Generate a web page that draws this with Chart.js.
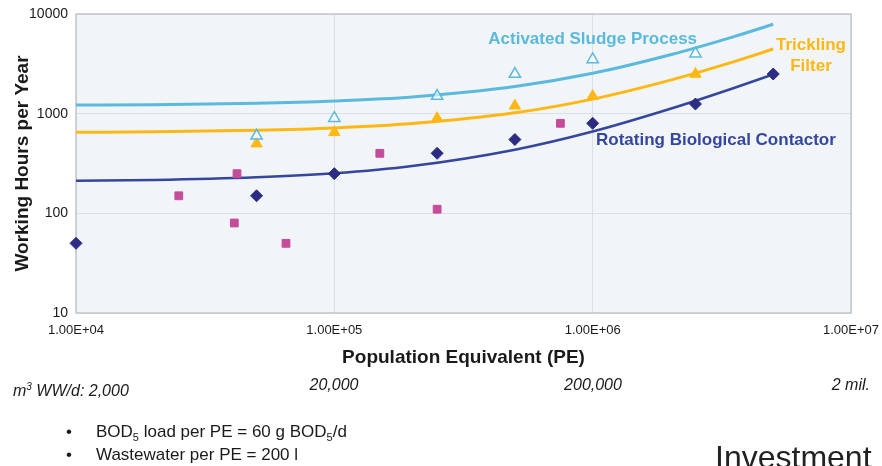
<!DOCTYPE html>
<html>
<head>
<meta charset="utf-8">
<script src="https://cdn.jsdelivr.net/npm/chart.js@4.4.0/dist/chart.umd.min.js"></script>
<style>
  html, body { margin: 0; padding: 0; background: #fff; }
  body { width: 882px; height: 466px; position: relative; overflow: hidden;
         font-family: "Liberation Sans", Arial, sans-serif; color: #1a1a1a; }
  #wrap { position: absolute; left: 0; top: 0; width: 882px; height: 466px; }
  .t { position: absolute; white-space: nowrap; line-height: 1; }
  .it { font-style: italic; font-size: 16px; }
  .mid { transform: translateX(-50%); }
  .bul { font-size: 17px; }
  .bul span.dot { position: absolute; left: -30px; }
  sub { font-size: 11px; vertical-align: -4px; line-height: 0; }
  sup { font-size: 10px; vertical-align: 6px; line-height: 0; }
</style>
</head>
<body>
<div id="wrap"><canvas id="chart"></canvas></div>

<div class="t it" style="left:13px; top:383px;">m<sup>3</sup> WW/d: 2,000</div>
<div class="t it mid" style="left:334px; top:377px;">20,000</div>
<div class="t it mid" style="left:593px; top:377px;">200,000</div>
<div class="t it" style="right:12px; top:377px;">2 mil.</div>

<div class="t bul" style="left:96px; top:423px;"><span class="dot">•</span>BOD<sub>5</sub> load per PE = 60 g BOD<sub>5</sub>/d</div>
<div class="t bul" style="left:96px; top:446px;"><span class="dot">•</span>Wastewater per PE = 200 l</div>
<div class="t" style="left:715px; top:441px; font-size:32px; color:#222;">Investment</div>

<script>
// axis ticks
const xTicks = [1e4, 1e5, 1e6, 1e7];
const xTickLabels = ['1.00E+04', '1.00E+05', '1.00E+06', '1.00E+07'];
const yTicks = [10, 100, 1000, 10000];

// measured plants
const rbcPE = [1e4, 5e4, 1e5, 2.5e5, 5e5, 1e6, 2.5e6, 5e6];
const rbcHours = [50, 150, 250, 400, 550, 800, 1250, 2500];
const otherPE = [2.5e4, 4.2e4, 4.1e4, 6.5e4, 1.5e5, 2.5e5, 7.5e5];
const otherHours = [150, 250, 80, 50, 400, 110, 800];
const tfPE = [5e4, 1e5, 2.5e5, 5e5, 1e6, 2.5e6];
const tfHours = [500, 650, 900, 1200, 1500, 2500];
const aspPE = [5e4, 1e5, 2.5e5, 5e5, 1e6, 2.5e6];
const aspHours = [600, 900, 1500, 2500, 3500, 4000];

// trend curves
const curvePE = [1e4, 2e4, 5e4, 1e5, 2e5, 5e5, 1e6, 2e6, 3.5e6, 5e6];
const aspCurve = [1220, 1230, 1270, 1340, 1470, 1870, 2540, 3900, 5900, 7900];
const tfCurve = [650, 657, 680, 718, 795, 1020, 1400, 2170, 3310, 4450];
const rbcCurve = [212, 216, 230, 252, 298, 435, 662, 1120, 1800, 2480];

const BLUE = '#5bb9dd', YELLOW = '#fdb815', NAVY = '#34469e', DIAMOND = '#2b2c82', PINK = '#c54b9b';
const FONT = '"Liberation Sans", Arial, sans-serif';

const pts = (xs, ys) => xs.map((x, i) => ({ x: x, y: ys[i] }));

const curveLabels = [
    { text: 'Activated Sludge Process', x: 1.0e6, y: 5600, color: BLUE },
    { text: 'Trickling', x: 7.0e6, y: 4900, color: YELLOW },
    { text: 'Filter', x: 7.0e6, y: 3000, color: YELLOW },
    { text: 'Rotating Biological Contactor', x: 3.0e6, y: 545, color: NAVY }
];

const plotFrame = {
    id: 'plotFrame',
    beforeDraw(chart) {
        const { ctx, chartArea: a } = chart;
        ctx.save();
        ctx.fillStyle = '#f1f5f8';
        ctx.fillRect(a.left, a.top, a.right - a.left, a.bottom - a.top);
        ctx.restore();
    },
    beforeDatasetsDraw(chart) {
        const { ctx, chartArea: a } = chart;
        ctx.save();
        ctx.strokeStyle = '#c4c6c9';
        ctx.lineWidth = 1.5;
        ctx.strokeRect(a.left, a.top, a.right - a.left, a.bottom - a.top);
        ctx.restore();
    },
    afterDatasetsDraw(chart) {
        const { ctx, scales } = chart;
        ctx.save();
        ctx.font = 'bold 17px ' + FONT;
        ctx.textAlign = 'center';
        ctx.textBaseline = 'middle';
        curveLabels.forEach(l => {
            ctx.fillStyle = l.color;
            ctx.fillText(l.text, scales.x.getPixelForValue(l.x), scales.y.getPixelForValue(l.y));
        });
        ctx.restore();
    }
};

new Chart(document.getElementById('chart'), {
    type: 'scatter',
    data: {
        datasets: [
            { data: pts(aspPE, aspHours), pointStyle: 'triangle', pointRadius: 6.5, borderWidth: 1.5,
              borderColor: BLUE, backgroundColor: 'rgba(255,255,255,0.6)', order: 0, clip: false },
            { data: pts(tfPE, tfHours), pointStyle: 'triangle', pointRadius: 6.5, borderWidth: 1,
              borderColor: YELLOW, backgroundColor: YELLOW, order: 0, clip: false },
            { data: pts(rbcPE, rbcHours), pointStyle: 'rectRot', pointRadius: 6, borderWidth: 1,
              borderColor: DIAMOND, backgroundColor: DIAMOND, order: 0, clip: false },
            { data: pts(otherPE, otherHours), pointStyle: 'rect', pointRadius: 5.5, borderWidth: 1,
              borderColor: PINK, backgroundColor: PINK, order: 0, clip: false },
            { data: pts(curvePE, aspCurve), showLine: true, pointRadius: 0, borderColor: BLUE,
              borderWidth: 3, cubicInterpolationMode: 'monotone', order: 1 },
            { data: pts(curvePE, tfCurve), showLine: true, pointRadius: 0, borderColor: YELLOW,
              borderWidth: 3, cubicInterpolationMode: 'monotone', order: 1 },
            { data: pts(curvePE, rbcCurve), showLine: true, pointRadius: 0, borderColor: NAVY,
              borderWidth: 2.5, cubicInterpolationMode: 'monotone', order: 1 }
        ]
    },
    options: {
        responsive: true,
        maintainAspectRatio: false,
        animation: false,
        layout: { padding: { left: 0, top: 14, right: 31, bottom: 93 } },
        plugins: { legend: { display: false }, tooltip: { enabled: false } },
        scales: {
            x: {
                type: 'logarithmic', min: 1e4, max: 1e7,
                afterBuildTicks: s => { s.ticks = xTicks.map(v => ({ value: v })); },
                afterFit: s => { s.height = 60; s.paddingLeft = 0; s.paddingRight = 0; },
                ticks: { font: { size: 13, family: FONT }, color: '#1a1a1a', padding: 10, maxRotation: 0,
                         callback: (v, i) => xTickLabels[i] },
                grid: { color: '#dcdfe3', drawTicks: false },
                border: { display: false },
                title: { display: true, text: 'Population Equivalent (PE)', color: '#1a1a1a',
                         font: { size: 19, weight: 'bold', family: FONT }, padding: { bottom: 4 } }
            },
            y: {
                type: 'logarithmic', min: 10, max: 10000,
                afterBuildTicks: s => { s.ticks = yTicks.map(v => ({ value: v })); },
                afterFit: s => { s.width = 76; s.paddingTop = 0; s.paddingBottom = 0; },
                ticks: { font: { size: 14, family: FONT }, color: '#1a1a1a', padding: 8,
                         callback: v => String(v) },
                grid: { color: '#dcdfe3', drawTicks: false },
                border: { display: false },
                title: { display: true, text: 'Working Hours per Year', color: '#1a1a1a',
                         font: { size: 19, weight: 'bold', family: FONT }, padding: { top: 11 } }
            }
        }
    },
    plugins: [plotFrame]
});
</script>
</body>
</html>
